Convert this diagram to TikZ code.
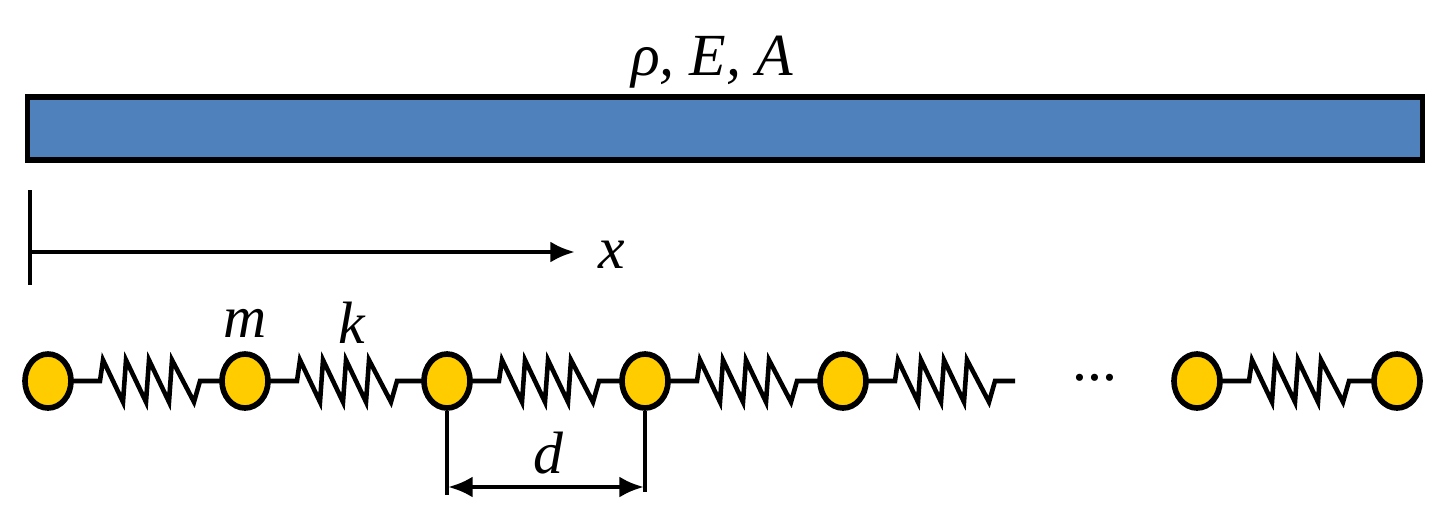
\documentclass[tikz,border=0pt]{standalone}
\usepackage{fontspec}
\setmainfont{Liberation Serif}
\usetikzlibrary{arrows.meta}
\definecolor{barblue}{HTML}{4F81BD}
\definecolor{massy}{HTML}{FFCC00}
\tikzset{
  mass/.style={draw=black,line width=1.6pt,fill=massy,ellipse,minimum width=0.46cm,minimum height=0.54cm,inner sep=0pt},
  lab/.style={font=\fontsize{17}{20}\selectfont\itshape},
  wire/.style={line width=1.3pt}
}
\usetikzlibrary{shapes.geometric}
\newcommand{\myspring}[2]{% #1 left mass x, #2 right end x (px)
  \draw[wire] (#1+23,381) -- (#1+52,381)
    -- (#1+55,360) -- (#1+75,402) -- (#1+78,360) -- (#1+98,402) -- (#1+101,360) -- (#1+121,402) -- (#1+124,360) -- (#1+146,402)
    -- (#1+152,381) -- (#2,381);}
\begin{document}
\begin{tikzpicture}[x=0.01cm,y=-0.01cm]
\useasboundingbox (0,0) rectangle (1446,527);
\node[lab] (t) at (712,62) {ρ, E, A};
\node[draw=black,line width=1.6pt,fill=barblue,minimum width=13.94cm,minimum height=0.63cm,inner sep=0pt] (bar) at (725,128.5) {};
\coordinate (o) at (30,252);
\coordinate (ax) at (575,252);
\draw[wire] (30,190) -- (30,285);
\draw[wire,-{Latex[length=7pt,width=6pt]}] (o) -- (ax);
\node[lab] (xl) at (612,255) {x};
% springs
\myspring{48}{222}
\myspring{245}{424}
\myspring{447}{622}
\myspring{645}{820}
\myspring{843}{1015}
\myspring{1197}{1374}
\foreach \n/\x in {1/48,2/245,3/447,4/645,5/843,6/1197,7/1397}
  \node[mass] (m\n) at (\x,381) {};
\node[font=\fontsize{17}{20}\selectfont] (dots) at (1095,378) {...};
\node[lab] (ml) at (245,323) {m};
\node[lab] (kl) at (352,323) {k};
\coordinate (d1) at (447,495);
\coordinate (d2) at (645,492);
\draw[wire] (m3.south) -- (d1);
\draw[wire] (m4.south) -- (d2);
\draw[wire,{Latex[length=7pt,width=6pt]}-{Latex[length=7pt,width=6pt]}] (448,487) -- (644,487);
\node[lab] (dl) at (548,453) {d};
\end{tikzpicture}
\end{document}
